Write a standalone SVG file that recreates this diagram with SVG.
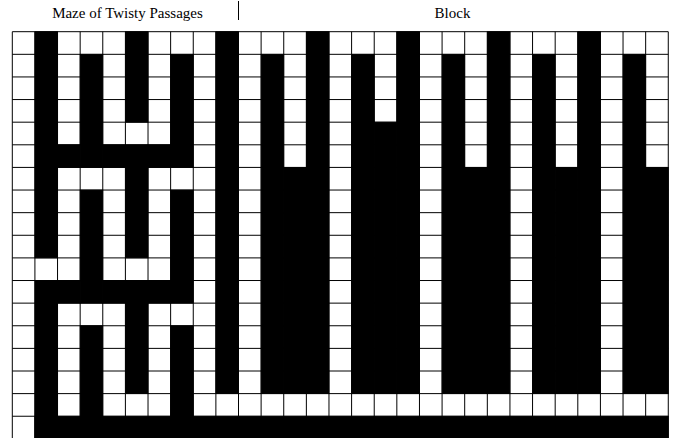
<svg xmlns="http://www.w3.org/2000/svg" width="674" height="438" viewBox="0 0 674 438">
<style>
.lbl{font-family:"Liberation Serif","Times New Roman",serif;font-size:15px;fill:#000;text-anchor:middle}
.grid{fill:none;stroke:#000;stroke-width:1}
.b{fill:#000;stroke:#000;stroke-width:0.8}
</style>
<rect x="0" y="0" width="674" height="438" fill="#fff"/>
<g id="labels">
<text class="lbl" x="127.5" y="17.5">Maze of Twisty Passages</text>
<text class="lbl" x="452.5" y="17.5">Block</text>
<line x1="238.5" y1="1" x2="238.5" y2="20" stroke="#000" stroke-width="1"/>
</g>
<g id="grid">
<path class="grid" d="M12.3 31.7H668.28M12.3 54.32H668.28M12.3 76.94H668.28M12.3 99.56H668.28M12.3 122.18H668.28M12.3 144.8H668.28M12.3 167.42H668.28M12.3 190.04H668.28M12.3 212.66H668.28M12.3 235.28H668.28M12.3 257.9H668.28M12.3 280.52H668.28M12.3 303.14H668.28M12.3 325.76H668.28M12.3 348.38H668.28M12.3 371H668.28M12.3 393.62H668.28M12.3 416.24H668.28
M12.3 31.7V438M34.92 31.7V438M57.54 31.7V438M80.16 31.7V438M102.78 31.7V438M125.4 31.7V438M148.02 31.7V438M170.64 31.7V438M193.26 31.7V438M215.88 31.7V438M238.5 31.7V438M261.12 31.7V438M283.74 31.7V438M306.36 31.7V438M328.98 31.7V438M351.6 31.7V438M374.22 31.7V438M396.84 31.7V438M419.46 31.7V438M442.08 31.7V438M464.7 31.7V438M487.32 31.7V438M509.94 31.7V438M532.56 31.7V438M555.18 31.7V438M577.8 31.7V438M600.42 31.7V438M623.04 31.7V438M645.66 31.7V438M668.28 31.7V438"/>
</g>
<g id="maze">
<rect class="b" x="34.92" y="31.7" width="22.62" height="226.2"/>
<rect class="b" x="34.92" y="280.52" width="22.62" height="158.34"/>
<rect class="b" x="57.54" y="144.8" width="22.62" height="22.62"/>
<rect class="b" x="57.54" y="280.52" width="22.62" height="22.62"/>
<rect class="b" x="80.16" y="54.32" width="22.62" height="113.1"/>
<rect class="b" x="80.16" y="190.04" width="22.62" height="113.1"/>
<rect class="b" x="80.16" y="325.76" width="22.62" height="113.1"/>
<rect class="b" x="102.78" y="144.8" width="22.62" height="22.62"/>
<rect class="b" x="102.78" y="280.52" width="22.62" height="22.62"/>
<rect class="b" x="125.4" y="31.7" width="22.62" height="90.48"/>
<rect class="b" x="125.4" y="144.8" width="22.62" height="113.1"/>
<rect class="b" x="125.4" y="280.52" width="22.62" height="113.1"/>
<rect class="b" x="148.02" y="144.8" width="22.62" height="22.62"/>
<rect class="b" x="148.02" y="280.52" width="22.62" height="22.62"/>
<rect class="b" x="170.64" y="54.32" width="22.62" height="113.1"/>
<rect class="b" x="170.64" y="190.04" width="22.62" height="113.1"/>
<rect class="b" x="170.64" y="325.76" width="22.62" height="113.1"/>
<rect class="b" x="215.88" y="31.7" width="22.62" height="361.92"/>
<rect class="b" x="34.92" y="416.24" width="633.36" height="22.62"/>
</g>
<g id="block">
<rect class="b" x="261.12" y="54.32" width="22.62" height="339.3"/>
<rect class="b" x="283.74" y="167.42" width="22.62" height="226.2"/>
<rect class="b" x="306.36" y="31.7" width="22.62" height="361.92"/>
<rect class="b" x="351.6" y="54.32" width="22.62" height="339.3"/>
<rect class="b" x="374.22" y="122.18" width="22.62" height="271.44"/>
<rect class="b" x="396.84" y="31.7" width="22.62" height="361.92"/>
<rect class="b" x="442.08" y="54.32" width="22.62" height="339.3"/>
<rect class="b" x="464.7" y="167.42" width="22.62" height="226.2"/>
<rect class="b" x="487.32" y="31.7" width="22.62" height="361.92"/>
<rect class="b" x="532.56" y="54.32" width="22.62" height="339.3"/>
<rect class="b" x="555.18" y="167.42" width="22.62" height="226.2"/>
<rect class="b" x="577.8" y="31.7" width="22.62" height="361.92"/>
<rect class="b" x="623.04" y="54.32" width="22.62" height="339.3"/>
<rect class="b" x="645.66" y="167.42" width="22.62" height="226.2"/>
</g>
</svg>
